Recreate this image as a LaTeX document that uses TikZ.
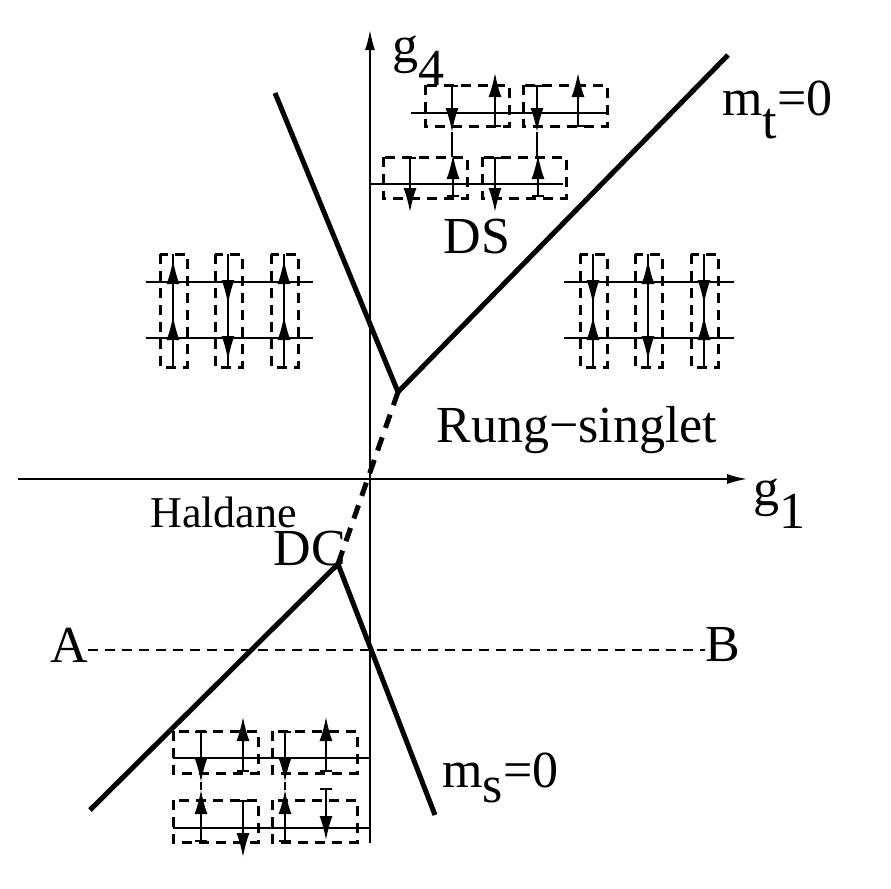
\documentclass[tikz,border=0pt]{standalone}
\usepackage{fontspec}
\setmainfont{Liberation Serif}
\usetikzlibrary{arrows.meta}
\tikzset{
  ax/.style={line width=0.8pt,-{Latex[length=10pt,width=5pt]}},
  leg/.style={line width=0.7pt},
  rung/.style={line width=0.7pt},
  dbox/.style={line width=1.5pt,dash pattern=on 5pt off 3.5pt},
  spin/.style={line width=0.8pt,{Bar[width=6pt,line width=0.8pt]}-{Latex[length=12pt,width=6.5pt]}},
  spinb/.style={line width=0.8pt,-{Latex[length=12pt,width=6.5pt]}},
  phase/.style={line width=2.5pt},
  lbl/.style={font=\fontsize{26}{30}\selectfont,inner sep=0pt}
}
% lowered full-size index, as in g4, mt
\newcommand{\lowr}[1]{\raisebox{-0.45em}{#1}}
% one rung of the side ladders: x, top spin, bottom spin (1 up, -1 down)
\newcommand{\vcol}[3]{%
  \draw[dbox] ({#1-13},254) rectangle ({#1+14},367);
  \draw[rung] (#1,254) -- (#1,367);
  \draw[spinb] (#1,{282+14*(#2)}) -- (#1,{282-22*(#2)});
  \draw[spinb] (#1,{338+14*(#3)}) -- (#1,{338-22*(#3)});}

\begin{document}
\begin{tikzpicture}[x=0.5pt,y=-0.5pt]
\useasboundingbox (0,0) rectangle (891,889);
% axes
\draw[ax] (18,479) -- (747,479);
\draw[ax] (370,843) -- (370,30);
\draw[line width=1pt,dash pattern=on 5pt off 3.5pt] (88,650) -- (705,650);
% phase boundaries
\draw[phase] (275,93) -- (398,392) -- (728,55);
\draw[phase] (90,810) -- (338,564) -- (435,815);
\draw[phase,dash pattern=on 7pt off 5pt] (398,392) -- (338,564);

% left and right ladders
\draw[leg] (146,282) -- (313,282) (146,338) -- (313,338);
\vcol{173}{1}{1}
\vcol{228}{-1}{-1}
\vcol{284}{1}{1}
\draw[leg] (564,282) -- (734,282) (564,338) -- (734,338);
\vcol{593}{-1}{1}
\vcol{648}{1}{-1}
\vcol{704}{-1}{1}

% DS ladder
\draw[leg] (411,113) -- (607,113) (370,184) -- (563,184);
\foreach \x/\y in {425/85,523/85,383/157,482/157}
  \draw[dbox] (\x,\y) rectangle ++(84,41);
\draw[rung] (452,132) -- (452,157) (537,132) -- (537,157);
\foreach \x/\a/\b in {452/85/132,495/127/73,537/85/132,578/127/73,
                      410/157/212,453/197/155,495/157/212,538/197/155}
  \draw[spin] (\x,\a) -- (\x,\b);

% DC ladder
\draw[leg] (173,758) -- (370,758) (173,828) -- (370,828);
\foreach \x/\y in {173/731,272/731,173/800,272/800}
  \draw[dbox] (\x,\y) rectangle ++(85,42);
\draw[rung] (201,782) -- (201,790) (285,782) -- (285,790);
\foreach \x/\a/\b in {201/731/782,243/772/717,285/731/782,326/772/717,
                      201/842/790,243/800/857,285/842/790,326/788/840}
  \draw[spin] (\x,\a) -- (\x,\b);

% labels
\node[lbl,anchor=base west] (g4) at (392,62) {g\lowr{4}};
\node[lbl,anchor=base west] (g1) at (753,505) {g\lowr{1}};
\node[lbl,anchor=base west] (mt) at (722,115) {m\lowr{t}=0};
\node[lbl,anchor=base west] (ms) at (442,787) {m\raisebox{-0.3em}{s}=0};
\node[lbl] (ds) at (477,237) {DS};
\node[lbl] (dc) at (310,549) {DC};
\node[lbl] (rs) at (577,430) {Rung−singlet};
\node[lbl,anchor=base west,font=\fontsize{22}{26}\selectfont] (hd) at (150,527) {Haldane};
\node[lbl] (a) at (69,645) {A};
\node[lbl] (b) at (723,645) {B};
\end{tikzpicture}
\end{document}
